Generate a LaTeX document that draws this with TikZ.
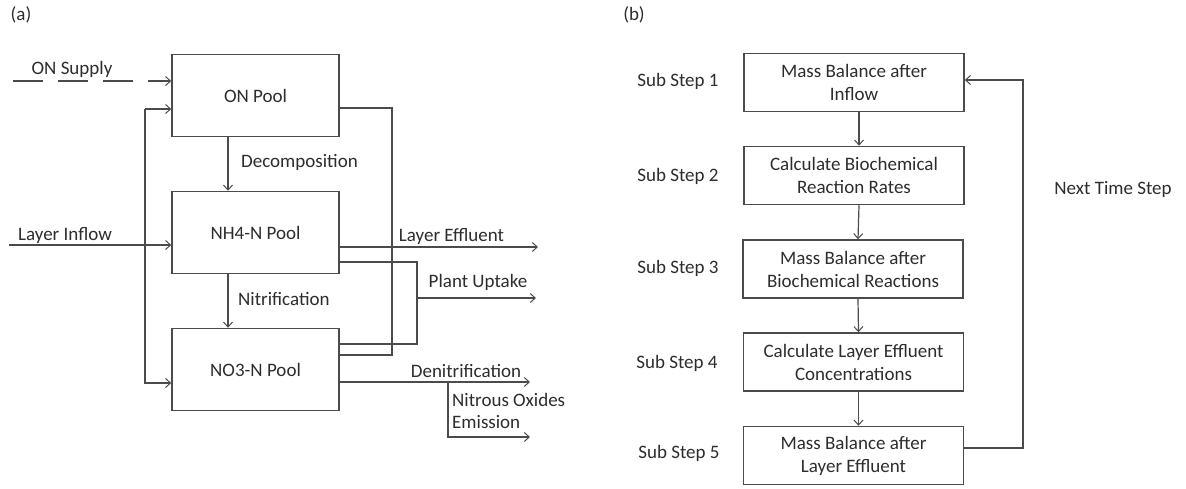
\documentclass[tikz,border=0pt]{standalone}
\usepackage{fontspec}
\setmainfont{Carlito}
\usetikzlibrary{arrows.meta}
\definecolor{linec}{RGB}{75,75,75}
\definecolor{textc}{RGB}{45,45,45}
\begin{document}
\begin{tikzpicture}[x=1pt,y=-1pt,
  every node/.style={font=\fontsize{19}{23}\selectfont, text=textc, inner sep=0pt},
  pool/.style={draw=linec, line width=1.5pt, minimum width=167pt, minimum height=82pt},
  stepbox/.style={draw=linec, line width=1.5pt, minimum width=220pt, minimum height=58pt, align=center},
  lbl/.style={anchor=center},
  lft/.style={anchor=west},
  ln/.style={draw=linec, line width=1.2pt},
  arr/.style={ln, -{Straight Barb[length=5pt,width=9pt,line width=1pt]}}
]
\useasboundingbox (0,0) rectangle (1186,488);
\fill[white] (0,0) rectangle (1186,488);

% ---------- panel (a) ----------
\node[lbl] (pa) at (21,15) {(a)};
\node[pool] (on)  at (255.5,95.5)  {ON Pool};
\node[pool] (nh4) at (255.5,232.5) {NH4-N Pool};
\node[pool] (no3) at (255.5,369.5) {NO3-N Pool};

\node[lbl] (onsup) at (72,69) {ON Supply};
\coordinate (s0) at (13,81);
\draw[arr, dash pattern=on 30pt off 15pt] (s0) -- ([yshift=14.5pt]on.west);

\coordinate (lt) at (145,109);
\draw[arr] (lt) -- ([yshift=-13.5pt]on.west);
\draw[arr] (lt) |- ([yshift=-13.5pt]no3.west);

\node[lbl] (linflow) at (65,235) {Layer Inflow};
\coordinate (li0) at (9,245);
\draw[arr] (li0) -- ([yshift=-12.5pt]nh4.west);

\draw[arr] ([xshift=-27.5pt]on.south) -- ([xshift=-27.5pt]nh4.north);
\node[lft] (decomp) at (241,162) {Decomposition};
\draw[arr] ([xshift=-27.5pt]nh4.south) -- ([xshift=-27.5pt]no3.north);
\node[lft] (nitrif) at (238,299) {Nitrification};

% Layer effluent
\coordinate (le1) at (538,247);
\draw[arr] ([yshift=-14.5pt]nh4.east) -- (le1);
\node[lbl] (leff) at (451.5,236) {Layer Effluent};

% Plant uptake bracket
\coordinate (pb) at (417,344);
\draw[ln] ([yshift=-29.5pt]nh4.east) -| (pb) -- ([yshift=25.5pt]no3.east);
\coordinate (pu0) at (417,298);
\coordinate (pu1) at (536,298);
\draw[arr] (pu0) -- (pu1);
\node[lbl] (pupt) at (478,282) {Plant Uptake};

% ON pool feedback line
\coordinate (ob) at (392,355);
\draw[ln] ([yshift=-12.5pt]on.east) -| (ob) -- ([yshift=14.5pt]no3.east);

% Denitrification
\coordinate (d1) at (530,382);
\coordinate (d0) at (448,382);
\coordinate (e1) at (530,437);
\draw[arr] ([yshift=-12.5pt]no3.east) -- (d1);
\draw[arr] (d0) |- (e1);
\node[lbl] (denit) at (466,371) {Denitrification};
\node[lft] (nox) at (452,400) {Nitrous Oxides};
\node[lft] (emis) at (452,422) {Emission};

% ---------- panel (b) ----------
\node[lbl] (pb0) at (634,15) {(b)};
\node[stepbox] (b1) at (854,82.5)  {Mass Balance after\\Inflow};
\node[stepbox] (b2) at (854,175.5) {Calculate Biochemical\\Reaction Rates};
\node[stepbox] (b3) at (853,269)   {Mass Balance after\\Biochemical Reactions};
\node[stepbox] (b4) at (853.5,362) {Calculate Layer Effluent\\Concentrations};
\node[stepbox] (b5) at (853.5,455.5) {Mass Balance after\\Layer Effluent};

\node[lbl] (ss1) at (678,81)  {Sub Step 1};
\node[lbl] (ss2) at (678,176) {Sub Step 2};
\node[lbl] (ss3) at (678,268) {Sub Step 3};
\node[lbl] (ss4) at (677,363) {Sub Step 4};
\node[lbl] (ss5) at (679,453) {Sub Step 5};

\draw[arr] ([xshift=5pt]b1.south) -- ([xshift=5pt]b2.north);
\draw[arr] ([xshift=5pt]b2.south) -- ([xshift=5pt]b3.north);
\draw[arr] ([xshift=5pt]b3.south) -- ([xshift=5pt]b4.north);
\draw[arr] ([xshift=5pt]b4.south) -- ([xshift=5pt]b5.north);

\coordinate (nb) at (1023,80);
\draw[arr] ([yshift=7.5pt]b5.east) -| (nb) -- ([yshift=2.5pt]b1.east);
\node[lbl] (nts) at (1113,189) {Next Time Step};
\end{tikzpicture}
\end{document}
